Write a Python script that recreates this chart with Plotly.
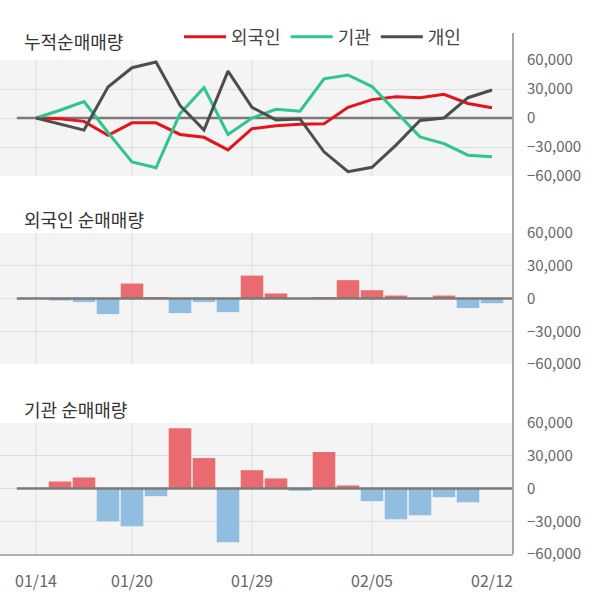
import plotly.graph_objects as go

# ---- data ----
dates = ["01/14", "01/15", "01/16", "01/17", "01/20", "01/21", "01/22", "01/23",
         "01/28", "01/29", "01/30", "01/31", "02/03", "02/04", "02/05", "02/06",
         "02/07", "02/10", "02/11", "02/12"]
label_dates = ["01/14", "01/20", "01/29", "02/05", "02/12"]
grid_dates = ["01/14", "01/20", "01/29", "02/05"]

cum_foreign = [0, -700, -3500, -18000, -5000, -5000, -17000, -20000, -33000, -11000,
               -8000, -6500, -6000, 11000, 19000, 22000, 21000, 24500, 15000, 10500]
cum_inst = [0, 8000, 17000, -15000, -45500, -51500, 4500, 31500, -17000, 0,
            9000, 7000, 40500, 44500, 32500, 6000, -19500, -26500, -38500, -40000]
cum_indiv = [0, -6500, -12500, 32000, 52000, 58000, 13000, -12500, 48500, 11000,
             -2000, -1000, -35000, -55500, -51000, -28000, -2500, 0, 21000, 29000]

daily_foreign = [0, -1800, -3300, -14300, 13700, 1000, -13400, -3300, -12500, 21000,
                 4600, 0, 900, 16800, 7600, 2700, 0, 2700, -8800, -4300]
daily_inst = [0, 6400, 10100, -30000, -34600, -7000, 55100, 27900, -49300, 16800,
              9200, -2100, 33400, 2800, -11600, -28200, -24500, -8000, -12600, 0]

yticks = [-60000, -30000, 0, 30000, 60000]

# ---- style ----
FONT = "Noto Sans CJK KR"
RED, GREEN, DARK = "#e5141c", "#2ec68a", "#4d4d4d"
BAR_UP, BAR_DN = "#ea6b6f", "#90bde0"
GRID = "#dddddd"

idx = list(range(len(dates)))
W, H = 600, 604
PLOT_H = 554  # plot area height in px (t=0, b=50)


def py(px):
    # pixel row -> paper y
    return (PLOT_H - px) / PLOT_H


fig = go.Figure()

for name, vals, color in [("외국인", cum_foreign, RED), ("기관", cum_inst, GREEN), ("개인", cum_indiv, DARK)]:
    fig.add_trace(go.Scatter(x=idx, y=vals, mode="lines", name=name,
                             line=dict(color=color, width=3), xaxis="x", yaxis="y"))

for k, vals in [(2, daily_foreign), (3, daily_inst)]:
    fig.add_trace(go.Bar(x=idx, y=vals, width=0.94, showlegend=False,
                         marker=dict(color=[BAR_UP if v > 0 else BAR_DN for v in vals], line_width=0),
                         xaxis=f"x{k}", yaxis=f"y{k}"))

xrange = [-1.5, 19.875]
domains = {1: [py(176), py(60)], 2: [py(364), py(233)], 3: [0, py(423)]}

layout = dict(
    width=W, height=H,
    margin=dict(l=0, r=87, t=0, b=50, autoexpand=False),
    paper_bgcolor="white", plot_bgcolor="#f4f4f4",
    font=dict(family=FONT, color="#666"),
    showlegend=True,
    legend=dict(orientation="h", x=179 / 513, y=py(37), xanchor="left", yanchor="middle",
                itemwidth=42, font=dict(size=18, color="#444", family=FONT),
                bgcolor="rgba(0,0,0,0)"),
)
for k in (1, 2, 3):
    s = "" if k == 1 else str(k)
    layout[f"xaxis{s}"] = dict(domain=[0, 1], range=xrange, anchor=f"y{s}", showgrid=False,
                               zeroline=False, showticklabels=(k == 3),
                               tickvals=[dates.index(d) for d in label_dates], ticktext=label_dates,
                               ticks="outside", ticklen=12, tickcolor="rgba(0,0,0,0)",
                               tickfont=dict(size=16, color="#666"),
                               showline=(k == 3), linecolor="#b0b0b0", linewidth=2)
    layout[f"yaxis{s}"] = dict(domain=domains[k], range=[-60000, 60000], anchor=f"x{s}",
                               side="right", tickvals=yticks, tickformat=",",
                               gridcolor=GRID, gridwidth=1, zeroline=False, showline=False,
                               ticks="outside", ticklen=10, tickcolor="rgba(0,0,0,0)",
                               tickfont=dict(size=15, color="#666"))
fig.update_layout(**layout)

shapes = []
for k in (1, 2, 3):
    s = "" if k == 1 else str(k)
    for d in grid_dates:
        shapes.append(dict(type="line", xref=f"x{s}", yref=f"y{s}", x0=dates.index(d), x1=dates.index(d),
                           y0=-60000, y1=60000, line=dict(color=GRID, width=1), layer="between"))
    shapes.append(dict(type="line", xref=f"x{s}", yref=f"y{s}", x0=-0.8, x1=xrange[1], y0=0, y1=0,
                       line=dict(color="#7a7a7a", width=2.5), layer="between" if k == 1 else "above"))
# right axis line running through all panels
shapes.append(dict(type="line", xref="paper", yref="paper", x0=1, x1=1, y0=0, y1=py(33),
                   line=dict(color="#a8a8a8", width=2)))
fig.update_layout(shapes=shapes)

for text, ypx in [("누적순매매량", 41), ("외국인 순매매량", 219), ("기관 순매매량", 409)]:
    fig.add_annotation(text=text, xref="paper", yref="paper", x=22 / 513, y=py(ypx),
                       xanchor="left", yanchor="middle", showarrow=False,
                       font=dict(size=18, color="#333", family=FONT))

# page body margin off so the figure sits at the window's corner
fig.write_html("out.html", config={"displayModeBar": False},
               post_script="document.body.style.margin='0px';")
